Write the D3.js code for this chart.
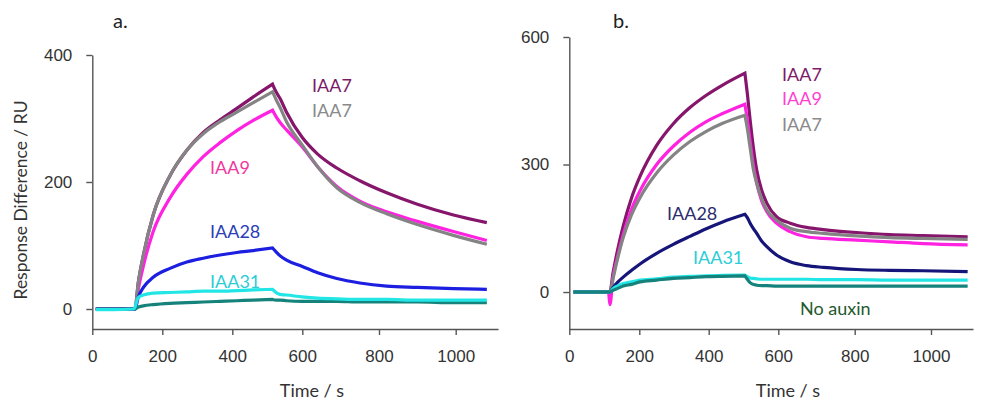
<!DOCTYPE html>
<html>
<head>
<meta charset="utf-8">
<script src="https://cdn.jsdelivr.net/npm/d3@7"></script>
<style>
  body { margin: 0; background: #fff; }
  svg { display: block; }
</style>
</head>
<body>
<div id="chart"></div>
<script>
// Sensorgram values (time in s, response in RU)

// panel a
const timeA = [10, 60, 118, 122, 131, 146, 174, 222, 270, 317, 365, 413, 460, 515, 525, 536, 555, 600, 640, 690, 750, 820, 900, 994, 1081];
const iaa7A   = [0, 0, 0, 0, 40, 85, 148, 210, 250, 278, 298, 316, 334, 354, 342, 332, 310, 270, 244, 222, 202, 183, 165, 148, 136];
const iaa7gA  = [0, 0, 0, 0, 40, 85, 148, 210, 250, 276, 295, 310, 325, 342, 330, 318, 295, 258, 224, 191, 168, 150, 133, 116, 102];
const iaa9A   = [0, 0, 0, 0, 30, 68, 122, 175, 212, 240, 262, 281, 297, 313, 303, 294, 282, 255, 224, 193, 170, 153, 138, 122, 108];
const iaa28A  = [0, 0, 0, 0, 18, 34, 50, 64, 74, 80, 85, 89, 92, 96, 90, 84, 77, 67, 57, 48, 41, 36, 34, 32, 31];
const iaa31A  = [-1, -1, 0, 3, 18, 22, 25, 26, 27, 28, 28, 29, 30, 31, 26, 23, 22, 19, 17, 16, 15, 15, 14, 14, 14];
const noAuxA  = [0, 0, 0, 0, 3, 5, 7, 9, 10, 11, 12, 13, 14, 15, 14, 14, 13, 12, 12, 12, 11, 11, 11, 10, 10];

// panel b
const timeB = [12, 60, 112, 116, 125, 137, 154, 178, 202, 250, 298, 346, 393, 440, 504, 511, 519, 528, 538, 552, 567, 595, 631, 674, 718, 805, 892, 979, 1096];
const iaa7B   = [0, 0, 0, 0, 45, 95, 155, 222, 272, 345, 396, 434, 463, 487, 515, 467, 405, 342, 287, 240, 209, 177, 162, 152, 147, 140, 135, 133, 130];
const iaa9B   = [0, 0, 0, -30, 35, 80, 135, 195, 238, 300, 343, 376, 401, 420, 442, 405, 355, 300, 256, 215, 189, 162, 142, 130, 126, 122, 118, 114, 111];
const iaa7gB  = [0, 0, 0, 0, 32, 75, 128, 182, 222, 280, 322, 354, 378, 397, 416, 385, 340, 290, 256, 220, 193, 169, 150, 142, 138, 132, 128, 126, 124];
const iaa28B  = [0, 0, 0, 0, 10, 22, 35, 51, 66, 91, 112, 131, 149, 165, 183, 175, 162, 150, 138, 120, 107, 87, 71, 62, 58, 53, 51, 50, 48];
const iaa31B  = [0, 0, 0, 0, 8, 14, 20, 24, 28, 31, 35, 37, 38, 39, 40, 36, 33, 32, 31, 30, 30, 30, 30, 30, 29, 29, 28, 28, 28];
const noAuxB  = [0, 0, 0, 0, 4, 8, 14, 18, 24, 28, 32, 34, 36, 37, 38, 30, 22, 18, 16, 15, 15, 14, 14, 14, 14, 14, 14, 14, 14];

// end of injection (association -> dissociation)
const injectionEndA = 515;
const injectionEndB = 504;

const xTicks = [0, 200, 400, 600, 800, 1000];
const yTicksA = [0, 200, 400];
const yTicksB = [0, 300, 600];

const colors = {
  iaa7: '#86156c',
  grey: '#848484',
  iaa9: '#ff22e0',
  iaa28a: '#1c1ee0',
  iaa28b: '#15157a',
  iaa31: '#22e6e6',
  noAux: '#15837c'
};

const width = 997, height = 402;
const svg = d3.select('#chart').append('svg')
  .attr('width', width)
  .attr('height', height);

svg.append('rect').attr('width', width).attr('height', height).attr('fill', '#fff');

function drawPanel(p) {
  // the original image is not evenly spaced along x, so the scale is piecewise
  const x = d3.scaleLinear()
    .domain([0, 200, 400, 600, 800, 1000, 1110])
    .range(p.xRange);
  const y = d3.scaleLinear().domain(p.yDomain).range([329, p.yTop]);

  const g = svg.append('g');

  const xAxis = g.append('g')
    .attr('transform', 'translate(0,329)')
    .call(d3.axisBottom(x).tickValues(xTicks).tickFormat(d3.format('d'))
      .tickSize(6).tickSizeOuter(0).tickPadding(15));
  const yAxis = g.append('g')
    .attr('transform', `translate(${p.xRange[0]},0)`)
    .call(d3.axisLeft(y).tickValues(p.yTicks).tickFormat(d3.format('d'))
      .tickSize(6).tickSizeOuter(0).tickPadding(14));

  [xAxis, yAxis].forEach((a) => {
    a.select('.domain').attr('stroke', '#555').attr('stroke-width', 1.4);
    a.selectAll('.tick line').attr('stroke', '#555').attr('stroke-width', 1.4);
    a.selectAll('.tick text')
      .attr('fill', '#333')
      .style('font-family', '"Liberation Sans", Arial, sans-serif')
      .style('font-size', '17px');
  });

  const line = d3.line()
    .x((d) => x(d[0]))
    .y((d) => y(d[1]))
    .curve(d3.curveMonotoneX);

  // association and dissociation are smoothed separately so the peak stays sharp
  const cut = p.time.indexOf(p.injectionEnd);

  p.series.forEach((s) => {
    const pts = p.time.map((t, i) => [t, s.values[i]]);
    const d = line(pts.slice(0, cut + 1)) + line(pts.slice(cut)).replace(/^M/, 'L');
    g.append('path')
      .attr('fill', 'none')
      .attr('stroke', s.color)
      .attr('stroke-width', 3.2)
      .attr('stroke-linejoin', 'miter')
      .attr('d', d);
  });

  p.labels.forEach((l) => {
    g.append('text')
      .attr('x', l.x)
      .attr('y', l.y)
      .attr('fill', l.color)
      .style('font-family', 'Lato, "Open Sans", sans-serif')
      .style('font-size', '18px')
      .text(l.text);
  });

  g.append('text')
    .attr('x', p.titleX)
    .attr('y', 397)
    .attr('text-anchor', 'middle')
    .attr('fill', '#333')
    .style('font-family', 'Lato, "Open Sans", sans-serif')
    .style('font-size', '18px')
    .text('Time / s');

  g.append('text')
    .attr('x', p.letterX)
    .attr('y', 28)
    .attr('fill', '#222')
    .style('font-family', 'Lato, "Open Sans", sans-serif')
    .style('font-size', '20px')
    .text(p.letter);
}

drawPanel({
  xRange: [92.3, 162.3, 232.3, 302.3, 379, 455.7, 498],
  yDomain: [-31.5, 400],
  yTop: 55,
  yTicks: yTicksA,
  time: timeA,
  injectionEnd: injectionEndA,
  series: [
    { values: iaa7A, color: colors.iaa7 },
    { values: iaa9A, color: colors.iaa9 },
    { values: iaa7gA, color: colors.grey },
    { values: iaa28A, color: colors.iaa28a },
    { values: noAuxA, color: colors.noAux },
    { values: iaa31A, color: colors.iaa31 }
  ],
  labels: [
    { text: 'IAA7', x: 312, y: 92, color: '#7d1a68' },
    { text: 'IAA7', x: 312, y: 117, color: '#8a8a8a' },
    { text: 'IAA9', x: 210, y: 174, color: '#f0389e' },
    { text: 'IAA28', x: 210, y: 238, color: '#2b3eb8' },
    { text: 'IAA31', x: 210, y: 288, color: '#2ccdd6' }
  ],
  titleX: 312,
  letter: 'a.',
  letterX: 113
});

drawPanel({
  xRange: [569.3, 639.3, 708.7, 778.3, 854.7, 931, 973],
  yDomain: [-87, 600],
  yTop: 37,
  yTicks: yTicksB,
  time: timeB,
  injectionEnd: injectionEndB,
  series: [
    { values: iaa7B, color: colors.iaa7 },
    { values: iaa9B, color: colors.iaa9 },
    { values: iaa7gB, color: colors.grey },
    { values: iaa28B, color: colors.iaa28b },
    { values: iaa31B, color: colors.iaa31 },
    { values: noAuxB, color: colors.noAux }
  ],
  labels: [
    { text: 'IAA7', x: 782, y: 81, color: '#7d1a68' },
    { text: 'IAA9', x: 782, y: 105, color: '#ff3fd0' },
    { text: 'IAA7', x: 782, y: 131, color: '#8a8a8a' },
    { text: 'IAA28', x: 667, y: 220, color: '#2c2c6e' },
    { text: 'IAA31', x: 693, y: 264, color: '#2ccdd6' },
    { text: 'No auxin', x: 800, y: 315, color: '#1f5a2e' }
  ],
  titleX: 788,
  letter: 'b.',
  letterX: 613
});

// y axis title (panel a only)
svg.append('text')
  .attr('transform', 'translate(27,200) rotate(-90)')
  .attr('text-anchor', 'middle')
  .attr('fill', '#333')
  .style('font-family', 'Lato, "Open Sans", sans-serif')
  .style('font-size', '17.5px')
  .text('Response Difference / RU');
</script>
</body>
</html>
